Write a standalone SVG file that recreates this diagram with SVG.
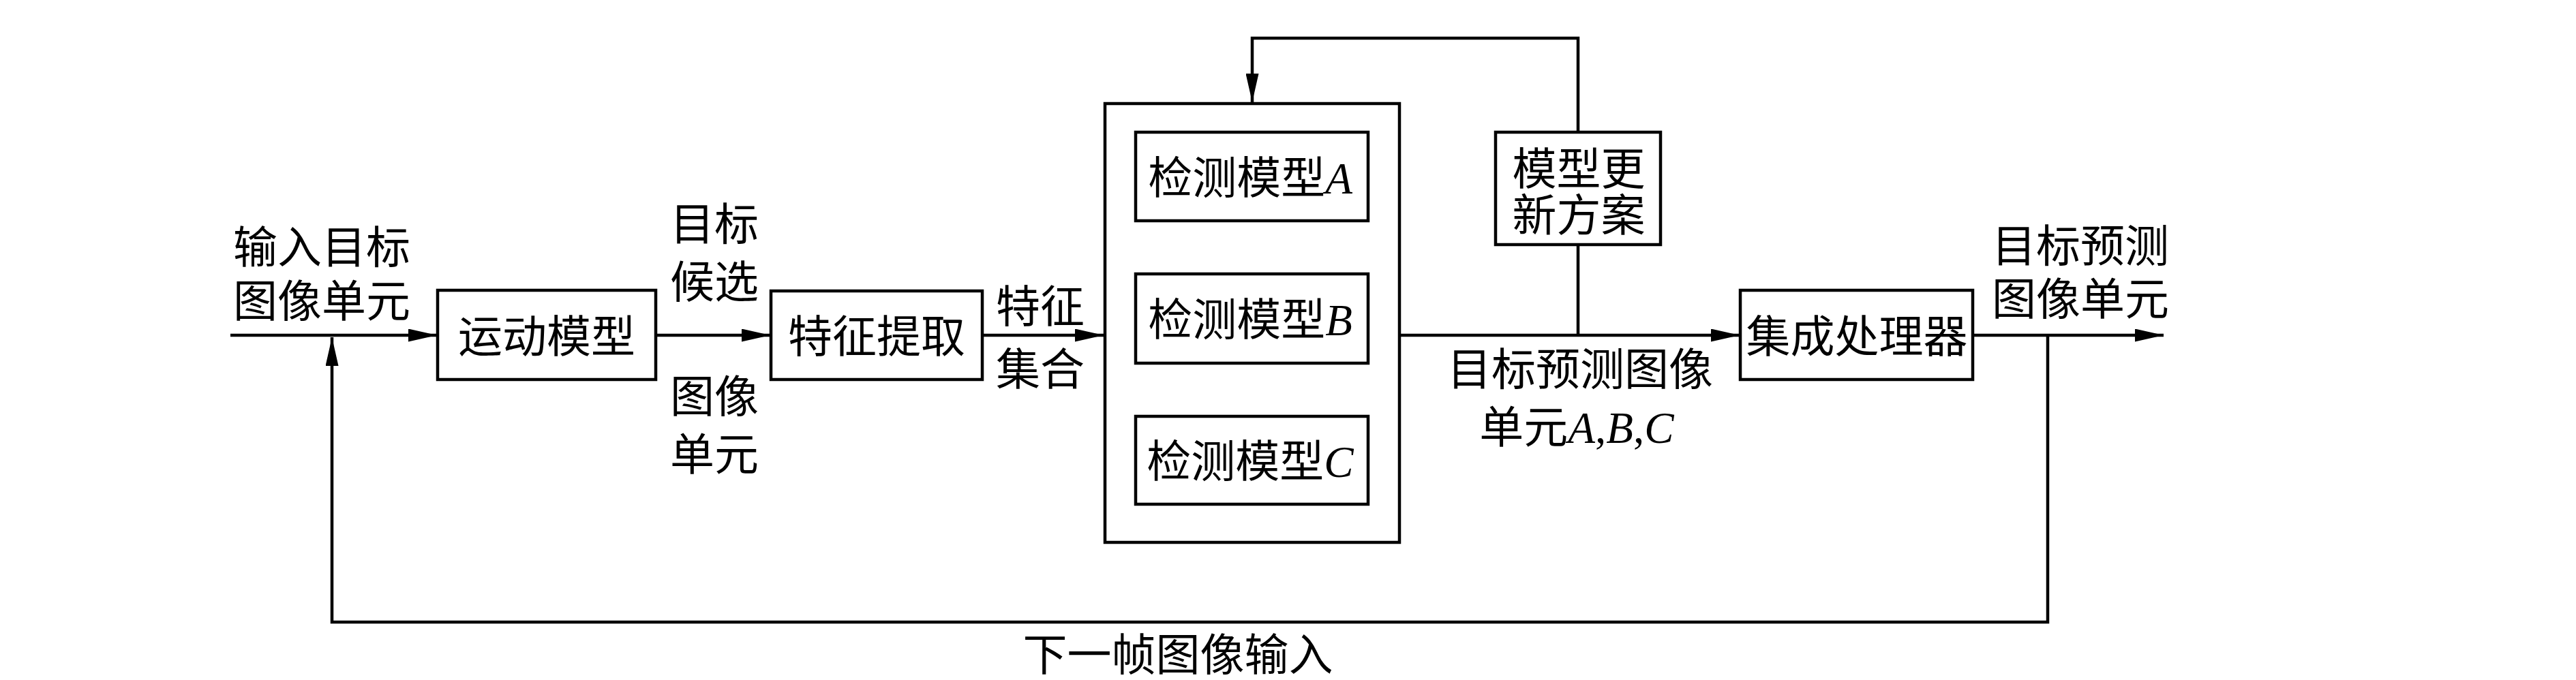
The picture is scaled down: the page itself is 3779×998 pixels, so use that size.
<svg xmlns="http://www.w3.org/2000/svg" width="3779" height="998" viewBox="0 0 3779 998">
<style>
.box{fill:#fff;stroke:#000;stroke-width:4.5}
.ln{fill:none;stroke:#000;stroke-width:4.5}
text{font-family:"Liberation Serif","Noto Sans CJK SC",serif;font-size:65px;fill:#000;text-anchor:middle}
.it{font-style:italic;font-family:"Liberation Serif",serif}
</style>
<defs>
<marker id="ah" markerUnits="userSpaceOnUse" markerWidth="42" markerHeight="19" refX="42" refY="9.5" orient="auto" viewBox="0 0 42 19">
<path d="M0,0 L42,9.5 L0,19 Z" fill="#000"/>
</marker>
</defs>
<rect width="3779" height="998" fill="#fff"/>
<g id="connectors">
<line class="ln" x1="338" y1="492" x2="641" y2="492" marker-end="url(#ah)"/>
<polyline class="ln" points="3004,492 3004,913 487,913 487,495" marker-end="url(#ah)"/>
<line class="ln" x1="962" y1="492" x2="1130" y2="492" marker-end="url(#ah)"/>
<line class="ln" x1="1441" y1="492" x2="1619" y2="492" marker-end="url(#ah)"/>
<line class="ln" x1="2053" y1="492" x2="2552" y2="492" marker-end="url(#ah)"/>
<line class="ln" x1="2315" y1="359" x2="2315" y2="492"/>
<polyline class="ln" points="2315,194 2315,56 1837,56 1837,150" marker-end="url(#ah)"/>
<line class="ln" x1="2894" y1="492" x2="3174" y2="492" marker-end="url(#ah)"/>
</g>
<g id="n-motion">
<rect class="box" x="642" y="426" width="320" height="131"/>
<text x="802" y="517">运动模型</text>
</g>
<g id="n-feature">
<rect class="box" x="1131" y="427" width="310" height="130"/>
<text x="1286" y="517">特征提取</text>
</g>
<g id="n-container">
<rect class="box" x="1621" y="152" width="432" height="644"/>
</g>
<g id="n-modelA">
<rect class="box" x="1666" y="194" width="341" height="130"/>
<text x="1834" y="284">检测模型<tspan class="it">A</tspan></text>
</g>
<g id="n-modelB">
<rect class="box" x="1666" y="402" width="341" height="131"/>
<text x="1834" y="492">检测模型<tspan class="it">B</tspan></text>
</g>
<g id="n-modelC">
<rect class="box" x="1666" y="611" width="341" height="129"/>
<text x="1834" y="700">检测模型<tspan class="it">C</tspan></text>
</g>
<g id="n-update">
<rect class="box" x="2194" y="194" width="242" height="165"/>
<text x="2316" y="271">模型更</text>
<text x="2316" y="339">新方案</text>
</g>
<g id="n-ensemble">
<rect class="box" x="2553" y="426" width="341" height="131"/>
<text x="2724" y="517">集成处理器</text>
</g>
<g id="labels">
<text x="472" y="386">输入目标</text>
<text x="472" y="465">图像单元</text>
<text x="1048" y="352">目标</text>
<text x="1048" y="437">候选</text>
<text x="1048" y="605">图像</text>
<text x="1048" y="690">单元</text>
<text x="1526" y="473">特征</text>
<text x="1526" y="565">集合</text>
<text x="2318" y="565">目标预测图像</text>
<text x="2313" y="650">单元<tspan class="it">A</tspan>,<tspan class="it">B</tspan>,<tspan class="it">C</tspan></text>
<text x="3052" y="384">目标预测</text>
<text x="3052" y="462">图像单元</text>
<text x="1728" y="984">下一帧图像输入</text>
</g>
</svg>
